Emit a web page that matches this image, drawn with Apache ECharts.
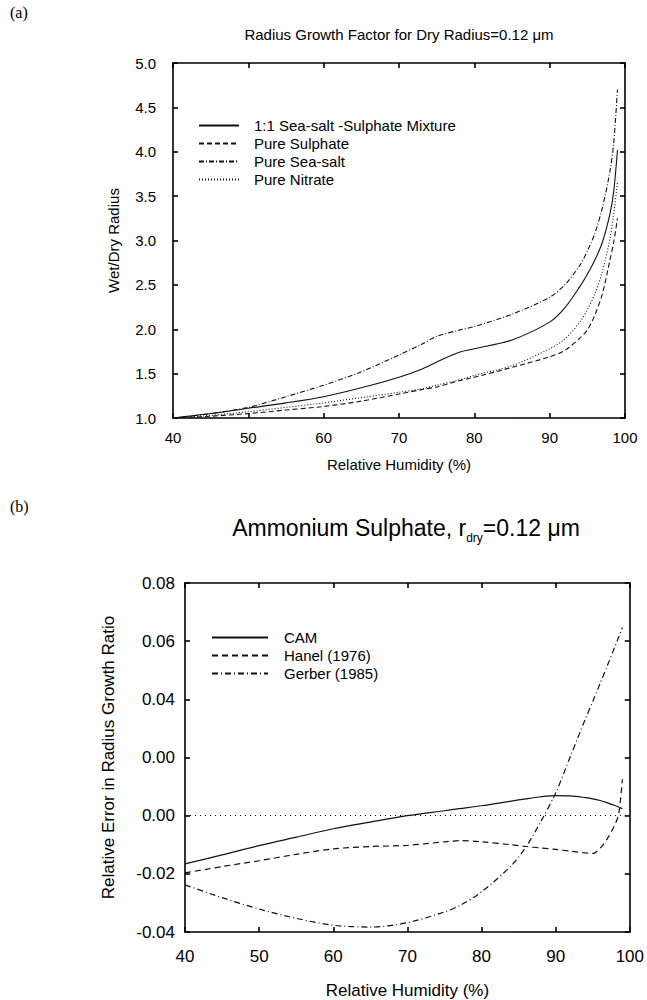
<!DOCTYPE html>
<html>
<head>
<meta charset="utf-8">
<title>Radius growth factor</title>
<script src="https://cdn.jsdelivr.net/npm/echarts@6/dist/echarts.min.js"></script>
<style>
  html, body { margin: 0; padding: 0; background: #fff; }
  #main { width: 647px; height: 1000px; }
</style>
</head>
<body>
<div id="main"></div>
<script>
// (a) wet/dry radius vs relative humidity
var rhA = [40, 45, 50, 55, 60, 65, 70, 73, 75, 78, 80, 85, 90, 92, 94, 95, 96, 97, 98, 98.5, 99];
var mixture  = [1.00, 1.05, 1.11, 1.17, 1.24, 1.34, 1.46, 1.55, 1.63, 1.74, 1.78, 1.88, 2.08, 2.24, 2.48, 2.62, 2.78, 2.98, 3.30, 3.55, 4.02];
var sulphate = [1.00, 1.02, 1.05, 1.09, 1.13, 1.19, 1.27, 1.32, 1.35, 1.42, 1.46, 1.57, 1.69, 1.76, 1.90, 1.99, 2.16, 2.40, 2.78, 2.98, 3.25];
var seaSalt  = [1.00, 1.05, 1.12, 1.24, 1.37, 1.52, 1.71, 1.83, 1.92, 1.99, 2.03, 2.17, 2.36, 2.50, 2.72, 2.88, 3.08, 3.37, 3.78, 4.10, 4.70];
var nitrate  = [1.00, 1.03, 1.07, 1.12, 1.17, 1.23, 1.29, 1.33, 1.37, 1.43, 1.48, 1.59, 1.78, 1.89, 2.08, 2.22, 2.40, 2.65, 3.02, 3.30, 3.65];
var namesA = ['1:1 Sea-salt -Sulphate Mixture', 'Pure Sulphate', 'Pure Sea-salt', 'Pure Nitrate'];

// (b) relative error in growth ratio
var rhB = [40, 45, 50, 55, 60, 65, 70, 75, 77, 80, 84, 86, 88, 90, 92, 94, 95, 96, 97, 98, 98.5, 99];
var cam    = [-0.0166, -0.0135, -0.0103, -0.0074, -0.0045, -0.0022, 0.0000, 0.0017, 0.0024, 0.0034, 0.0050, 0.0058, 0.0065, 0.0069, 0.0068, 0.0062, 0.0058, 0.0052, 0.0044, 0.0035, 0.0030, 0.0024];
var hanel  = [-0.0197, -0.0175, -0.0155, -0.0133, -0.0114, -0.0106, -0.0102, -0.0090, -0.0086, -0.0090, -0.0100, -0.0106, -0.0111, -0.0116, -0.0122, -0.0128, -0.0130, -0.0112, -0.0078, -0.0030, 0.0005, 0.0125];
var gerber = [-0.0238, -0.0282, -0.0321, -0.0353, -0.0377, -0.0383, -0.0368, -0.0331, -0.0310, -0.0262, -0.0172, -0.0107, -0.0020, 0.0078, 0.0205, 0.0332, 0.0393, 0.0455, 0.0518, 0.0582, 0.0614, 0.0647];
var namesB = ['CAM', 'Hanel (1976)', 'Gerber (1985)'];
var zeroRef = 0;

var xTicks = [40, 50, 60, 70, 80, 90, 100];
var yTicksA = ['1.0', '1.5', '2.0', '2.5', '3.0', '3.5', '4.0', '4.5', '5.0'];
var yTicksB = ['-0.04', '-0.02', '0.00', '0.00', '0.04', '0.06', '0.08'];

var FONT = "'Liberation Sans', Arial, Helvetica, sans-serif";

function pairs(xs, ys) {
  return xs.map(function (x, i) { return [x, ys[i]]; });
}

// frame axis: line + inward ticks, labels only on the main side
function axis(dim, grid, pos, min, max, step, labels, size, margin) {
  return {
    type: 'value', gridIndex: grid, position: pos,
    min: min, max: max, interval: step,
    axisLine: { show: true, onZero: false, lineStyle: { color: '#000', width: 1.6 } },
    axisTick: { show: true, inside: true, length: 5, lineStyle: { color: '#000', width: 1.6 } },
    splitLine: { show: false },
    axisLabel: labels ? {
      show: true, margin: margin, color: '#000', fontFamily: FONT, fontSize: size,
      formatter: function (v, i) { return labels[i]; }
    } : { show: false }
  };
}

function line(name, xs, ys, dash, xi, w) {
  return {
    name: name, type: 'line', xAxisIndex: xi, yAxisIndex: xi,
    data: pairs(xs, ys), symbol: 'none', smooth: 0.3, silent: true,
    lineStyle: { color: '#111', width: w, type: dash },
    itemStyle: { color: '#111' }
  };
}

var chart = echarts.init(document.getElementById('main'), null, { renderer: 'svg' });

var xa = axis('x', 0, 'bottom', 40, 100, 10, xTicks, 15, 12);
xa.name = 'Relative Humidity (%)';
xa.nameLocation = 'middle';
xa.nameGap = 39;
xa.nameTextStyle = { color: '#000', fontFamily: FONT, fontSize: 15 };
var ya = axis('y', 0, 'left', 1, 5, 0.5, yTicksA, 15, 17);
ya.name = 'Wet/Dry Radius';
ya.nameLocation = 'middle';
ya.nameGap = 52;
ya.nameTextStyle = { color: '#000', fontFamily: FONT, fontSize: 15 };

var xb = axis('x', 1, 'bottom', 40, 100, 10, xTicks, 17, 16);
xb.name = 'Relative Humidity (%)';
xb.nameLocation = 'middle';
xb.nameGap = 50;
xb.nameTextStyle = { color: '#000', fontFamily: FONT, fontSize: 17 };
var yb = axis('y', 1, 'left', -0.04, 0.08, 0.02, yTicksB, 17, 10);
yb.name = 'Relative Error in Radius Growth Ratio';
yb.nameLocation = 'middle';
yb.nameGap = 68;
yb.nameTextStyle = { color: '#000', fontFamily: FONT, fontSize: 17 };

var option = {
  animation: false,
  backgroundColor: '#fff',
  grid: [
    { left: 173, top: 63, width: 452, height: 355 },
    { left: 185, top: 583, width: 445, height: 350 }
  ],
  xAxis: [
    xa, axis('x', 0, 'top', 40, 100, 10, null),
    xb, axis('x', 1, 'top', 40, 100, 10, null)
  ],
  yAxis: [
    ya, axis('y', 0, 'right', 1, 5, 0.5, null),
    yb, axis('y', 1, 'right', -0.04, 0.08, 0.02, null)
  ],
  legend: [
    {
      data: namesA, orient: 'vertical', left: 198, top: 118, padding: 0,
      itemWidth: 40, itemHeight: 12, itemGap: 3,
      itemStyle: { opacity: 0 },
      textStyle: { color: '#000', fontFamily: FONT, fontSize: 15, padding: [0, 0, 0, 10] }
    },
    {
      data: namesB, orient: 'vertical', left: 211, top: 630, padding: 0,
      itemWidth: 56, itemHeight: 12, itemGap: 3,
      itemStyle: { opacity: 0 },
      textStyle: { color: '#000', fontFamily: FONT, fontSize: 15, padding: [0, 0, 0, 11] }
    }
  ],
  series: [
    line(namesA[0], rhA, mixture, 'solid', 0, 1.1),
    line(namesA[1], rhA, sulphate, [5, 3], 0, 1.1),
    line(namesA[2], rhA, seaSalt, [5, 2, 1, 2], 0, 1.1),
    line(namesA[3], rhA, nitrate, [1, 2], 0, 1.1),
    line(namesB[0], rhB, cam, 'solid', 2, 1.2),
    line(namesB[1], rhB, hanel, [6, 4], 2, 1.2),
    line(namesB[2], rhB, gerber, [6, 3, 1, 3], 2, 1.2),
    {
      type: 'line', xAxisIndex: 2, yAxisIndex: 2, data: [], silent: true,
      markLine: {
        symbol: 'none', silent: true, label: { show: false },
        lineStyle: { color: '#000', width: 1.2, type: [1, 4] },
        data: [{ yAxis: zeroRef }]
      }
    }
  ],
  graphic: [
    { type: 'text', x: 10, y: 12, style: { text: '(a)', fontFamily: "'Liberation Serif', 'Times New Roman', serif", fontSize: 16, fill: '#000', verticalAlign: 'middle' } },
    { type: 'text', x: 10, y: 506, style: { text: '(b)', fontFamily: "'Liberation Serif', 'Times New Roman', serif", fontSize: 16, fill: '#000', verticalAlign: 'middle' } },
    { type: 'text', x: 399, y: 34, style: { text: 'Radius Growth Factor for Dry Radius=0.12 \u03bcm', fontFamily: FONT, fontSize: 15, fill: '#000', align: 'center', verticalAlign: 'middle' } },
    {
      type: 'text', x: 406, y: 528,
      style: {
        text: '{a|Ammonium Sulphate, r}{s|dry}{a|=0.12 \u03bcm}',
        align: 'center', verticalAlign: 'middle',
        rich: {
          a: { fontFamily: FONT, fontSize: 23, fill: '#000', lineHeight: 32 },
          s: { fontFamily: FONT, fontSize: 12, fill: '#000', lineHeight: 32, verticalAlign: 'bottom' }
        }
      }
    }
  ]
};

chart.setOption(option);
</script>
</body>
</html>
